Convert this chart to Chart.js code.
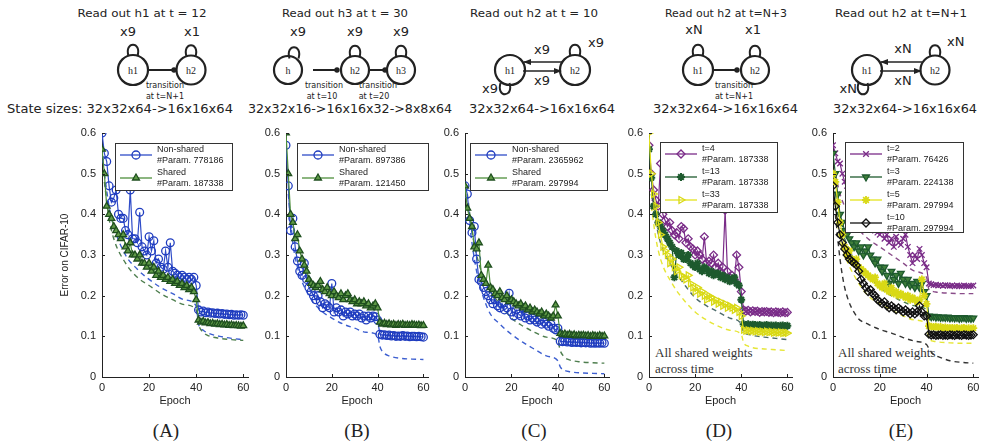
<!DOCTYPE html>
<html>
<head>
<meta charset="utf-8">
<script src="https://cdn.jsdelivr.net/npm/chart.js@4.4.1/dist/chart.umd.min.js"></script>
<style>
  body { margin: 0; background: #fff; }
  #page { position: relative; width: 981px; height: 442px; overflow: hidden; background: #fff; }
  #page canvas { position: absolute; }
  .panel { position: absolute; top: 419px; line-height: 24px; transform: translateX(-50%);
           font-family: "Liberation Serif", "Times New Roman", serif; font-size: 19px; color: #222; }
  .note { position: absolute; font-family: "Liberation Serif", "Times New Roman", serif;
          font-size: 13px; line-height: 16px; color: #333; white-space: nowrap; }
</style>
</head>
<body>
<div id="page">
  <svg id="diag" width="981" height="120" style="position:absolute;left:0;top:0">
    <defs>
      <marker id="ah" viewBox="0 0 10 10" refX="9" refY="5" markerWidth="5" markerHeight="5" orient="auto">
        <path d="M0,1 L10,5 L0,9 z" fill="#222"/>
      </marker>
    </defs>
  </svg>
  <div class="panel" style="left:166px">(A)</div>
  <div class="panel" style="left:357px">(B)</div>
  <div class="panel" style="left:534px">(C)</div>
  <div class="panel" style="left:719px">(D)</div>
  <div class="panel" style="left:901px">(E)</div>
  <div class="note" style="left:655px;top:345px">All shared weights<br>across time</div>
  <div class="note" style="left:838px;top:345px">All shared weights<br>across time</div>
</div>
<script>
// ---- data (error on CIFAR-10, one value per epoch 0..60) ----
const A_nonShared = [0.60,0.55,0.53,0.47,0.43,0.44,0.46,0.40,0.39,0.39,0.36,
  0.35,0.46,0.34,0.34,0.33,0.405,0.32,0.31,0.30,0.345,
  0.31,0.335,0.28,0.29,0.27,0.265,0.31,0.27,0.33,0.26,
  0.255,0.25,0.245,0.25,0.245,0.24,0.245,0.24,0.245,0.225,
  0.165,0.16,0.162,0.158,0.16,0.157,0.158,0.156,0.157,0.155,
  0.156,0.154,0.155,0.153,0.154,0.152,0.153,0.152,0.153,0.152];
const A_shared = [0.56,0.50,0.42,0.40,0.39,0.37,0.36,0.35,0.34,0.35,0.32,
  0.31,0.33,0.30,0.30,0.29,0.30,0.28,0.28,0.27,0.28,
  0.26,0.27,0.25,0.26,0.245,0.25,0.24,0.245,0.235,0.24,
  0.23,0.235,0.225,0.23,0.22,0.225,0.215,0.22,0.21,0.19,
  0.14,0.135,0.137,0.133,0.134,0.131,0.132,0.13,0.131,0.129,
  0.13,0.128,0.129,0.127,0.128,0.126,0.127,0.126,0.125,0.126];
const B_nonShared = [0.57,0.47,0.36,0.39,0.32,0.285,0.26,0.25,0.28,0.24,0.22,
  0.21,0.20,0.19,0.20,0.185,0.17,0.18,0.175,0.17,0.23,
  0.16,0.17,0.16,0.165,0.15,0.16,0.155,0.16,0.15,0.155,
  0.15,0.155,0.145,0.15,0.14,0.15,0.145,0.15,0.148,0.14,
  0.105,0.103,0.104,0.102,0.103,0.101,0.102,0.10,0.101,0.10,
  0.102,0.10,0.101,0.099,0.10,0.10,0.099,0.10,0.099,0.098];
const B_shared = [0.60,0.50,0.40,0.38,0.34,0.35,0.31,0.29,0.275,0.26,0.24,
  0.23,0.225,0.22,0.225,0.235,0.215,0.21,0.22,0.205,0.20,
  0.21,0.20,0.195,0.205,0.19,0.20,0.205,0.19,0.185,0.19,
  0.18,0.185,0.18,0.185,0.175,0.18,0.17,0.175,0.18,0.17,
  0.135,0.13,0.132,0.129,0.131,0.128,0.13,0.127,0.129,0.128,
  0.13,0.127,0.128,0.127,0.129,0.128,0.127,0.128,0.126,0.127];
const C_nonShared = [0.47,0.45,0.385,0.355,0.37,0.29,0.24,0.235,0.22,0.21,0.20,
  0.19,0.18,0.19,0.175,0.17,0.18,0.165,0.17,0.206,0.16,
  0.15,0.165,0.155,0.15,0.17,0.145,0.15,0.14,0.145,0.14,
  0.135,0.14,0.13,0.135,0.13,0.125,0.13,0.12,0.116,0.12,
  0.088,0.087,0.088,0.086,0.087,0.085,0.086,0.085,0.086,0.084,
  0.085,0.084,0.085,0.083,0.084,0.083,0.084,0.083,0.084,0.083];
const C_shared = [0.47,0.415,0.39,0.37,0.32,0.315,0.33,0.25,0.24,0.23,0.275,
  0.22,0.215,0.205,0.20,0.21,0.195,0.19,0.20,0.185,0.19,
  0.185,0.18,0.175,0.18,0.17,0.175,0.165,0.17,0.16,0.165,
  0.16,0.155,0.16,0.15,0.155,0.15,0.145,0.15,0.177,0.15,
  0.107,0.104,0.106,0.103,0.105,0.102,0.104,0.101,0.103,0.102,
  0.103,0.101,0.102,0.10,0.102,0.101,0.10,0.102,0.10,0.101];
const D_t4 = [0.57,0.50,0.46,0.435,0.42,0.525,0.40,0.385,0.37,0.38,0.36,
  0.35,0.355,0.34,0.37,0.365,0.33,0.34,0.32,0.315,0.30,
  0.31,0.30,0.29,0.345,0.28,0.285,0.28,0.30,0.27,0.28,
  0.26,0.27,0.41,0.26,0.245,0.25,0.24,0.30,0.27,0.21,
  0.165,0.162,0.164,0.16,0.163,0.161,0.162,0.159,0.161,0.16,
  0.161,0.159,0.16,0.158,0.16,0.159,0.158,0.16,0.158,0.159];
const D_t13 = [0.56,0.49,0.42,0.40,0.38,0.37,0.36,0.35,0.34,0.33,0.32,
  0.245,0.31,0.30,0.305,0.29,0.29,0.30,0.28,0.275,0.27,
  0.28,0.265,0.26,0.27,0.265,0.255,0.26,0.25,0.255,0.255,
  0.245,0.25,0.24,0.245,0.235,0.24,0.245,0.23,0.225,0.19,
  0.13,0.128,0.13,0.127,0.129,0.128,0.127,0.128,0.126,0.127,
  0.128,0.126,0.127,0.126,0.127,0.125,0.126,0.127,0.125,0.126];
const D_t33 = [0.60,0.50,0.45,0.42,0.38,0.35,0.32,0.31,0.30,0.28,0.29,
  0.27,0.26,0.27,0.25,0.245,0.24,0.25,0.23,0.22,0.21,
  0.22,0.205,0.21,0.20,0.19,0.20,0.195,0.185,0.19,0.18,
  0.185,0.175,0.18,0.17,0.175,0.17,0.165,0.17,0.16,0.15,
  0.116,0.114,0.115,0.113,0.114,0.112,0.113,0.111,0.112,0.11,
  0.112,0.11,0.111,0.109,0.11,0.109,0.11,0.108,0.109,0.108];
const E_t2 = [0.57,0.55,0.53,0.525,0.50,0.48,0.47,0.45,0.44,0.43,0.42,
  0.41,0.40,0.395,0.39,0.38,0.375,0.37,0.36,0.355,0.35,
  0.36,0.34,0.35,0.33,0.34,0.32,0.345,0.33,0.325,0.34,
  0.35,0.32,0.30,0.28,0.30,0.29,0.315,0.30,0.28,0.27,
  0.23,0.228,0.226,0.227,0.225,0.226,0.224,0.226,0.225,0.224,
  0.225,0.223,0.225,0.224,0.223,0.225,0.224,0.223,0.224,0.225];
const E_t3 = [0.55,0.50,0.45,0.40,0.38,0.36,0.35,0.34,0.33,0.32,0.33,
  0.31,0.32,0.30,0.31,0.32,0.30,0.29,0.28,0.29,0.27,
  0.26,0.27,0.25,0.23,0.26,0.24,0.25,0.23,0.255,0.24,
  0.23,0.24,0.225,0.23,0.22,0.235,0.22,0.23,0.21,0.20,
  0.15,0.148,0.149,0.147,0.148,0.146,0.147,0.146,0.147,0.145,
  0.146,0.145,0.146,0.144,0.145,0.146,0.144,0.145,0.144,0.145];
const E_t5 = [0.50,0.48,0.43,0.38,0.35,0.32,0.30,0.31,0.29,0.28,0.29,
  0.27,0.265,0.26,0.255,0.25,0.245,0.24,0.245,0.23,0.225,
  0.22,0.23,0.215,0.21,0.22,0.205,0.21,0.20,0.205,0.20,
  0.195,0.20,0.19,0.195,0.19,0.185,0.19,0.24,0.20,0.18,
  0.125,0.124,0.123,0.124,0.122,0.123,0.121,0.122,0.121,0.12,
  0.121,0.12,0.121,0.119,0.12,0.121,0.119,0.12,0.119,0.12];
const E_t10 = [0.47,0.42,0.38,0.35,0.33,0.315,0.30,0.29,0.285,0.28,0.275,
  0.26,0.24,0.23,0.22,0.21,0.215,0.205,0.20,0.19,0.185,
  0.18,0.185,0.175,0.17,0.175,0.17,0.165,0.17,0.165,0.16,
  0.165,0.16,0.155,0.16,0.155,0.16,0.175,0.16,0.15,0.15,
  0.105,0.103,0.104,0.102,0.103,0.104,0.102,0.103,0.102,0.104,
  0.103,0.102,0.104,0.103,0.102,0.104,0.103,0.102,0.103,0.104];

// training error (dashed), sampled at these epochs
const trainEpochs = [1,3,5,10,15,20,25,30,35,40,41,43,45,50,55,60];
const A_trainNon    = [0.50,0.42,0.37,0.30,0.265,0.24,0.22,0.205,0.19,0.175,0.13,0.115,0.108,0.10,0.095,0.092];
const A_trainShared = [0.48,0.39,0.34,0.28,0.245,0.225,0.205,0.19,0.178,0.165,0.13,0.11,0.102,0.095,0.092,0.09];
const B_trainNon    = [0.45,0.33,0.27,0.20,0.165,0.145,0.13,0.12,0.11,0.103,0.075,0.058,0.052,0.046,0.044,0.043];
const C_trainNon    = [0.42,0.33,0.26,0.165,0.13,0.105,0.085,0.068,0.052,0.04,0.025,0.016,0.013,0.01,0.009,0.008];
const C_trainShared = [0.45,0.36,0.30,0.22,0.18,0.145,0.125,0.11,0.098,0.088,0.065,0.048,0.042,0.037,0.035,0.034];
const D_trainT13    = [0.45,0.38,0.33,0.27,0.23,0.195,0.175,0.16,0.145,0.13,0.11,0.105,0.102,0.098,0.095,0.092];
const D_trainT33    = [0.42,0.34,0.29,0.23,0.19,0.16,0.14,0.125,0.115,0.105,0.085,0.076,0.072,0.069,0.067,0.065];
const E_trainT2     = [0.50,0.45,0.42,0.37,0.34,0.32,0.30,0.28,0.26,0.245,0.215,0.21,0.208,0.206,0.205,0.205];
const E_trainT3     = [0.45,0.38,0.34,0.28,0.25,0.22,0.20,0.185,0.175,0.165,0.13,0.122,0.12,0.117,0.115,0.114];
const E_trainT5     = [0.42,0.34,0.30,0.24,0.20,0.18,0.165,0.15,0.14,0.13,0.095,0.088,0.086,0.084,0.083,0.083];
const E_trainT10    = [0.40,0.29,0.22,0.15,0.13,0.117,0.108,0.097,0.088,0.08,0.07,0.055,0.05,0.04,0.036,0.034];

const xTicks = [0, 20, 40, 60];
const yTicks = [0, 0.1, 0.2, 0.3, 0.4, 0.5, 0.6];

const A_legend = [['Non-shared', '#Param. 778186'], ['Shared', '#Param. 187338']];
const B_legend = [['Non-shared', '#Param. 897386'], ['Shared', '#Param. 121450']];
const C_legend = [['Non-shared', '#Param. 2365962'], ['Shared', '#Param. 297994']];
const D_legend = [['t=4', '#Param. 187338'], ['t=13', '#Param. 187338'], ['t=33', '#Param. 187338']];
const E_legend = [['t=2', '#Param. 76426'], ['t=3', '#Param. 224138'], ['t=5', '#Param. 297994'], ['t=10', '#Param. 297994']];

// ---- styles ----
const HOLLOW = 'rgba(255,255,255,0)';
const ST = {
  nonShared: { line: '#2f4cc8', point: 'circle', border: '#1f3cbf', fill: HOLLOW },
  shared:    { line: '#4e8f3c', point: 'triangle', border: '#1f4f1f', fill: '#5f9a46' },
  t4:  { line: '#7a2c88', point: 'rectRot', border: '#7a2c88', fill: HOLLOW },
  t13: { line: '#1e5a2e', point: 'star', border: '#1e5a2e', fill: '#1e5a2e', bw: 2 },
  t33: { line: '#e3e31c', point: 'triangle', rot: 90, border: '#d9d916', fill: HOLLOW },
  t2:  { line: '#7a2c88', point: 'crossRot', border: '#7a2c88', fill: HOLLOW },
  t3:  { line: '#1e5a2e', point: 'triangle', rot: 180, border: '#1e5a2e', fill: '#3f7f3a' },
  t5:  { line: '#e3e31c', point: 'star', border: '#d9d916', fill: HOLLOW, bw: 1.8 },
  t10: { line: '#111111', point: 'rectRot', border: '#111111', fill: HOLLOW }
};
const DASH = { blue: '#3d5fd0', green: '#4e7e4e', dark: '#4d6b6b', yellow: '#e6e636', purple: '#8a4d8a', black: '#333333' };

// ---- top diagrams ----
const NS = 'http://www.w3.org/2000/svg';
const svg = document.getElementById('diag');
function add(tag, a, txt) {
  const e = document.createElementNS(NS, tag);
  for (const k in a) e.setAttribute(k, a[k]);
  if (txt) e.textContent = txt;
  svg.appendChild(e);
  return e;
}
function text(x, y, s, size, anchor, len, fam) {
  const a = { x, y, 'font-size': size, 'text-anchor': anchor || 'middle',
              'font-family': fam || '"DejaVu Sans", sans-serif', fill: '#222' };
  if (len) { a.textLength = len; a.lengthAdjust = 'spacingAndGlyphs'; }
  add('text', a, s);
}
function node(cx, cy, r, name) {
  add('circle', { cx, cy, r, fill: '#fff', stroke: '#222', 'stroke-width': 2.2 });
  text(cx, cy + 3.5, name, 10, 'middle', 0, '"Liberation Serif", serif');
}
function loop(cx, y, dir) {
  const h = y + 14 * dir;
  add('path', { d: `M${cx - 4.5},${y - dir} C${cx - 9},${h} ${cx + 9},${h} ${cx + 4.5},${y - dir}`,
                fill: 'none', stroke: '#222', 'stroke-width': 2 });
}
function link(x1, x2, y) {
  add('line', { x1, y1: y, x2, y2: y, stroke: '#222', 'stroke-width': 2 });
  add('circle', { cx: x2, cy: y, r: 2.7, fill: '#222' });
}
function arrow(x1, x2, y) {
  add('line', { x1, y1: y, x2, y2: y, stroke: '#222', 'stroke-width': 1.6, 'marker-end': 'url(#ah)' });
}

// (A)
text(142, 17, 'Read out h1 at t = 12', 11, 'middle', 129);
text(128, 36, 'x9', 13); text(192, 36, 'x1', 13);
node(133, 70, 15, 'h1'); node(191, 70, 14.5, 'h2');
loop(133, 55, -1); loop(191, 55.5, -1);
link(148, 174, 70);
text(165, 88, 'transition', 8); text(165, 99, 'at t=N+1', 8);
// (B)
text(345, 17, 'Read out h3 at t = 30', 11, 'middle', 126);
text(298, 36, 'x9', 13); text(355, 36, 'x9', 13); text(401, 36, 'x9', 13);
node(288, 70, 14, 'h'); node(355, 70, 14, 'h2'); node(401, 70, 14, 'h3');
loop(294, 57.5, -1); loop(355, 56, -1); loop(401, 56, -1);
link(313, 337, 70); link(370, 385, 70);
text(324, 88, 'transition', 8); text(322, 99, 'at t=10', 8);
text(378, 88, 'transition', 8); text(374, 99, 'at t=20', 8);
// (C)
text(534, 17, 'Read out h2 at t = 10', 11, 'middle', 128);
node(510, 70, 15, 'h1'); node(575, 70, 15, 'h2');
arrow(562, 524, 62); arrow(523, 561, 71);
text(542, 54, 'x9', 13); text(542, 85, 'x9', 13);
loop(575, 55, -1); text(588, 47, 'x9', 13, 'start');
loop(505, 84, 1); text(498, 93, 'x9', 13, 'end');
// (D)
text(726, 17, 'Read out h2 at t=N+3', 11, 'middle', 122);
text(694, 34, 'xN', 13); text(753, 34, 'x1', 13);
node(698, 70, 15, 'h1'); node(755, 70, 14, 'h2');
loop(698, 55, -1); loop(755, 56, -1);
link(713, 737, 70);
text(734, 88, 'transition', 8); text(734, 99, 'at t=N+1', 8);
// (E)
text(901, 17, 'Read out h2 at t=N+1', 11, 'middle', 132);
node(867, 70, 15, 'h1'); node(935, 70, 14.5, 'h2');
arrow(922, 881, 62); arrow(880, 921, 71);
text(903, 53, 'xN', 13); text(903, 85, 'xN', 13);
loop(935, 55.5, -1); text(947, 46, 'xN', 13, 'start');
loop(863, 84, 1); text(857, 93, 'xN', 13, 'end');
// state sizes
text(7, 113, 'State sizes: 32x32x64->16x16x64', 13, 'start', 226);
text(248, 113, '32x32x16->16x16x32->8x8x64', 13, 'start', 204);
text(469, 113, '32x32x64->16x16x64', 13, 'start', 146);
text(653, 113, '32x32x64->16x16x64', 13, 'start', 145);
text(833, 113, '32x32x64->16x16x64', 13, 'start', 144);

// ---- charts ----
const innerTicks = {
  id: 'innerTicks',
  afterDatasetsDraw(chart) {
    const { ctx, chartArea: a } = chart;
    const xs = chart.scales.x, ys = chart.scales.y;
    ctx.save();
    ctx.strokeStyle = '#222';
    ctx.lineWidth = 1;
    ctx.beginPath();
    xs.ticks.forEach(t => {
      const p = Math.round(xs.getPixelForValue(t.value)) + 0.5;
      ctx.moveTo(p, a.bottom); ctx.lineTo(p, a.bottom - 3);
    });
    ys.ticks.forEach(t => {
      const p = Math.round(ys.getPixelForValue(t.value)) + 0.5;
      ctx.moveTo(a.left, p); ctx.lineTo(a.left + 3, p);
    });
    ctx.stroke();
    ctx.restore();
  }
};

function makeLegend(p) {
  return {
    id: 'boxLegend',
    afterDraw(chart) {
      const ctx = chart.ctx;
      const b = p.legendBox;
      const x0 = b.x - p.left, y0 = b.y - 118;
      ctx.save();
      ctx.fillStyle = '#fff';
      ctx.fillRect(x0, y0, b.w, b.h);
      ctx.strokeStyle = '#333';
      ctx.lineWidth = 1;
      ctx.strokeRect(x0 + 0.5, y0 + 0.5, b.w, b.h);
      p.legend.forEach((lines, i) => {
        const s = p.series[p.legendSeries[i]];
        const yy = y0 + 12 + i * 23;
        ctx.strokeStyle = s.style.line;
        ctx.lineWidth = 1.3;
        ctx.beginPath(); ctx.moveTo(x0 + 5, yy); ctx.lineTo(x0 + 37, yy); ctx.stroke();
        ctx.strokeStyle = s.style.border;
        ctx.fillStyle = s.style.fill || HOLLOW;
        ctx.lineWidth = s.style.bw || 1.3;
        Chart.helpers.drawPoint(ctx, { pointStyle: s.style.point, rotation: s.style.rot || 0,
          radius: 4, borderWidth: s.style.bw || 1.3 }, x0 + 21, yy);
        ctx.fillStyle = '#222';
        ctx.font = '9px "Liberation Sans", Arial, sans-serif';
        ctx.textBaseline = 'middle';
        ctx.textAlign = 'left';
        ctx.fillText(lines[0], x0 + 42, yy - 5.5);
        ctx.fillText(lines[1], x0 + 42, yy + 5.5);
      });
      ctx.restore();
    }
  };
}

function toDataset(s, idx, n) {
  const data = s.ys.map((v, i) => ({ x: s.xs ? s.xs[i] : i, y: v }));
  if (s.dash) {
    return { data, borderColor: s.dash, borderWidth: 1.4, borderDash: [5, 4], pointRadius: 0,
             cubicInterpolationMode: 'monotone', fill: false, order: n - idx };
  }
  const st = s.style;
  return { data, borderColor: st.line, borderWidth: 1.2, pointStyle: st.point, pointRotation: st.rot || 0,
           pointRadius: 3.9, pointBorderWidth: st.bw || 1.3, pointBorderColor: st.border,
           pointBackgroundColor: st.fill || HOLLOW, tension: 0, fill: false, order: n - idx };
}

const tickFont = { family: '"Liberation Sans", Arial, sans-serif', size: 11 };

function makePanel(p) {
  const yw = p.yTitle ? 45 : 38;
  p.left = p.x0 - yw;
  const w = Math.round(yw + 62 * (p.x60 - p.x0) / 60 + 6);
  const cv = document.createElement('canvas');
  cv.width = w; cv.height = 290;
  cv.style.left = p.left + 'px'; cv.style.top = '118px';
  document.getElementById('page').appendChild(cv);
  new Chart(cv, {
    type: 'line',
    data: { datasets: p.series.map((s, i) => toDataset(s, i, p.series.length)) },
    options: {
      responsive: false, animation: false, devicePixelRatio: 1,
      layout: { padding: { top: 15, right: 6, bottom: 0, left: 0 } },
      plugins: { legend: { display: false }, tooltip: { enabled: false } },
      scales: {
        x: {
          type: 'linear', min: 0, max: 62,
          afterFit: s => { s.height = 31; },
          afterBuildTicks: s => { s.ticks = xTicks.map(v => ({ value: v })); },
          grid: { display: false, drawTicks: false },
          border: { display: true, color: '#222', width: 1 },
          ticks: { padding: 4, color: '#222', font: tickFont, maxRotation: 0, autoSkip: false },
          title: { display: true, text: 'Epoch', color: '#222', padding: 0,
                   font: { family: '"Liberation Sans", Arial, sans-serif', size: 11 } }
        },
        y: {
          min: 0, max: 0.6,
          afterFit: s => { s.width = yw; },
          afterBuildTicks: s => { s.ticks = yTicks.map(v => ({ value: v })); },
          grid: { display: false, drawTicks: false },
          border: { display: true, color: '#222', width: 1 },
          ticks: { padding: 6, color: '#222', font: tickFont,
                   callback: v => (v === 0 ? '0' : v.toFixed(1)) },
          title: { display: !!p.yTitle, text: p.yTitle || '', color: '#222', padding: { top: 2, bottom: 0 },
                   font: { family: '"Liberation Sans", Arial, sans-serif', size: 10 } }
        }
      }
    },
    plugins: [innerTicks, makeLegend(p)]
  });
}

const panels = [
  { x0: 102, x60: 243, yTitle: 'Error on CIFAR-10',
    series: [
      { xs: trainEpochs, ys: A_trainNon, dash: DASH.blue },
      { xs: trainEpochs, ys: A_trainShared, dash: DASH.green },
      { ys: A_nonShared, style: ST.nonShared },
      { ys: A_shared, style: ST.shared }
    ],
    legend: A_legend, legendSeries: [2, 3], legendBox: { x: 115, y: 143, w: 117, h: 47 } },
  { x0: 286, x60: 423,
    series: [
      { xs: trainEpochs, ys: B_trainNon, dash: DASH.blue },
      { ys: B_nonShared, style: ST.nonShared },
      { ys: B_shared, style: ST.shared }
    ],
    legend: B_legend, legendSeries: [1, 2], legendBox: { x: 297, y: 143, w: 131, h: 47 } },
  { x0: 465, x60: 604,
    series: [
      { xs: trainEpochs, ys: C_trainNon, dash: DASH.blue },
      { xs: trainEpochs, ys: C_trainShared, dash: DASH.green },
      { ys: C_nonShared, style: ST.nonShared },
      { ys: C_shared, style: ST.shared }
    ],
    legend: C_legend, legendSeries: [2, 3], legendBox: { x: 470, y: 143, w: 137, h: 47 } },
  { x0: 649, x60: 787,
    series: [
      { xs: trainEpochs, ys: D_trainT13, dash: DASH.dark },
      { xs: trainEpochs, ys: D_trainT33, dash: DASH.yellow },
      { ys: D_t4, style: ST.t4 },
      { ys: D_t13, style: ST.t13 },
      { ys: D_t33, style: ST.t33 }
    ],
    legend: D_legend, legendSeries: [2, 3, 4], legendBox: { x: 660, y: 142, w: 117, h: 70 } },
  { x0: 833, x60: 973,
    series: [
      { xs: trainEpochs, ys: E_trainT2, dash: DASH.purple },
      { xs: trainEpochs, ys: E_trainT3, dash: DASH.green },
      { xs: trainEpochs, ys: E_trainT5, dash: DASH.yellow },
      { xs: trainEpochs, ys: E_trainT10, dash: DASH.black },
      { ys: E_t2, style: ST.t2 },
      { ys: E_t3, style: ST.t3 },
      { ys: E_t5, style: ST.t5 },
      { ys: E_t10, style: ST.t10 }
    ],
    legend: E_legend, legendSeries: [4, 5, 6, 7], legendBox: { x: 845, y: 142, w: 118, h: 90 } }
];

panels.forEach(makePanel);
</script>
</body>
</html>
